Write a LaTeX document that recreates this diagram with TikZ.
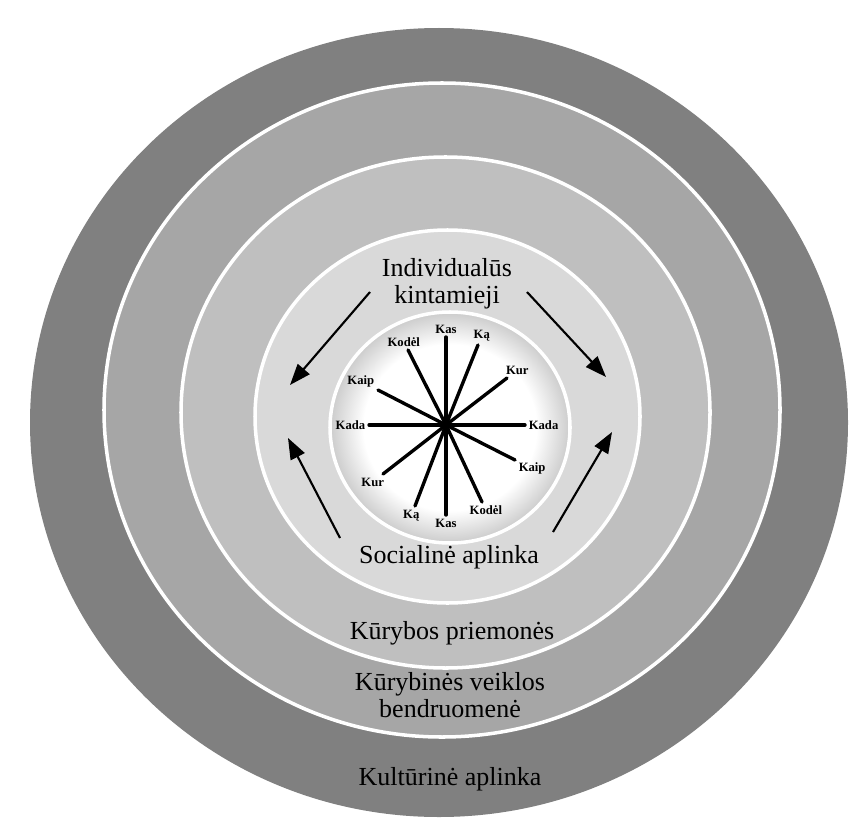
\documentclass[tikz,border=0pt]{standalone}
\usepackage{fontspec}
\setmainfont{Liberation Serif}
\usetikzlibrary{arrows.meta}
\definecolor{ringA}{gray}{0.50}
\definecolor{ringB}{gray}{0.65}
\definecolor{ringC}{gray}{0.75}
\definecolor{ringD}{gray}{0.85}
\pgfdeclareradialshading{diskshade}{\pgfpoint{0bp}{0bp}}{color(0bp)=(white); color(18bp)=(white); color(25bp)=(black!20); color(50bp)=(black!20)}
\begin{document}
\begin{tikzpicture}[x=0.025cm, y=-0.025cm,
  ring/.style={draw=white, line width=2.5pt},
  big/.style={font=\fontsize{18.5}{19.5}\selectfont, align=center, inner sep=0pt},
  word/.style={font=\bfseries\fontsize{9}{10}\selectfont, inner sep=2.5pt},
  spoke/.style={line width=2.4pt, line cap=round},
  arr/.style={line width=1.5pt, -{Triangle[length=15pt, width=11pt]}}]
\useasboundingbox (0,0) rectangle (859,827);

\fill[ringA] (439,422.5) ellipse [x radius=409, y radius=394.5];
\filldraw[ring, fill=ringB] (442,410) ellipse [x radius=338, y radius=327];
\filldraw[ring, fill=ringC] (445.5,412.5) ellipse [x radius=264.5, y radius=255.5];
\filldraw[ring, fill=ringD] (447.5,416.5) ellipse [x radius=192.5, y radius=186.5];
\shade[shading=diskshade] (450,427.5) ellipse [x radius=120, y radius=115.5];
\draw[ring] (450,427.5) ellipse [x radius=120, y radius=115.5];

\coordinate (hub) at (446,425);
\foreach \i/\x/\y/\a/\t in {1/446/337/270/Kas, 2/478/345/248/Ką, 3/507/378/218/Kur,
  4/525/425/180/Kada, 5/515/460/153/Kaip, 6/482/502/115/Kodėl,
  7/446/515/90/Kas, 8/415/506/68/Ką, 9/383/474/38/Kur,
  10/369/425/0/Kada, 11/378/390/333/Kaip, 12/408/350/297/Kodėl}{
  \coordinate (e\i) at (\x,\y);
  \node[word, anchor=\a] (w\i) at (e\i) {\t};
  \draw[spoke] (hub) -- (e\i);
}

\node[big] (indiv) at (447,284) {Individualūs\\kintamieji};
\node[big] (social) at (449,557) {Socialinė aplinka};
\node[big] (tools) at (452,633) {Kūrybos priemonės};
\node[big] (comm) at (450,695) {Kūrybinės veiklos\\bendruomenė};
\node[big] (culture) at (450,779) {Kultūrinė aplinka};

\coordinate (t1) at (370,292);
\coordinate (h1) at (290,385);
\coordinate (t2) at (527,292);
\coordinate (h2) at (606,377);
\coordinate (t3) at (340,538);
\coordinate (h3) at (288,438);
\coordinate (t4) at (553,532);
\coordinate (h4) at (612,432);
\draw[arr] (t1) -- (h1);
\draw[arr] (t2) -- (h2);
\draw[arr] (t3) -- (h3);
\draw[arr] (t4) -- (h4);
\end{tikzpicture}
\end{document}
